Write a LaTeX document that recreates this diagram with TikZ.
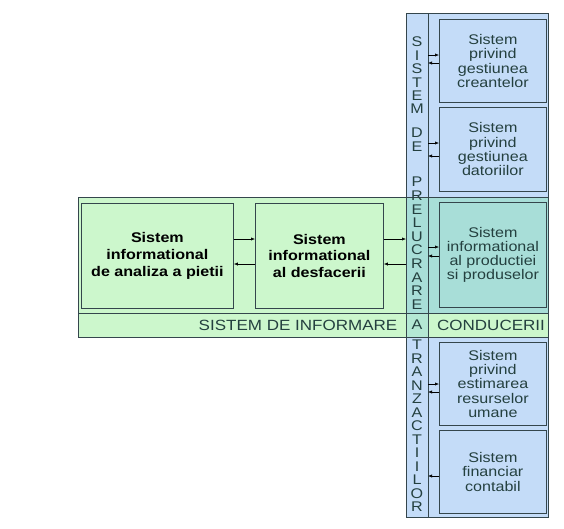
\documentclass[tikz,border=0pt]{standalone}
\usepackage{fontspec}
\setmainfont[FakeStretch=1.15]{Liberation Sans}
\usetikzlibrary{arrows.meta}
\definecolor{cblue}{HTML}{C4DCF8}
\definecolor{cgreen}{HTML}{CCF7CC}
\definecolor{cteal}{HTML}{A8DED8}
\definecolor{crowA}{HTML}{B4E8D4}
\definecolor{cline}{HTML}{34464C}
\definecolor{ctext}{HTML}{24403F}
\tikzset{
  frame/.style={draw=cline, line width=0.8pt, inner sep=0pt},
  area/.style={inner sep=0pt, outer sep=0pt, anchor=north west},
  bbox/.style={frame, fill=cblue, minimum width=107pt, align=center, text=ctext,
    font=\fontsize{14}{14.3}\selectfont, anchor=north west},
  gbox/.style={frame, fill=cgreen, align=center, anchor=north west, minimum height=105pt,
    font=\bfseries\fontsize{14}{16.6}\selectfont},
  letter/.style={text=ctext, font=\fontsize{14}{14}\selectfont, inner sep=0pt},
  rowtext/.style={text=ctext, font=\fontsize{14.8}{14.8}\selectfont, inner sep=0pt},
  arr/.style={-{Latex[length=4pt,width=3.2pt]}, line width=0.6pt, draw=black},
}
\begin{document}
\begin{tikzpicture}[x=1pt,y=-1pt]
\useasboundingbox (0,0) rectangle (564,528);
% column background
\node[area, fill=cblue, minimum width=142pt, minimum height=504pt] (col) at (406,13) {};
% green band
\node[area, fill=cgreen, minimum width=470pt, minimum height=140pt] (band) at (78,197) {};
% overlap of column and band
\node[area, fill=cteal, minimum width=142pt, minimum height=116pt] (ovl) at (406,197) {};
% bottom row of band
\node[area, fill=cgreen, minimum width=470pt, minimum height=24pt] (row) at (78,313) {};
\node[area, fill=crowA, minimum width=22pt, minimum height=24pt] (rowA) at (406,313) {};
\draw[cline, line width=0.8pt] (band.north west) rectangle (band.south east);
\draw[cline, line width=0.8pt] (row.north west) -- (row.north east);
% strip
\node[area, draw=cline, line width=0.8pt, minimum width=22pt, minimum height=504pt] (strip) at (406,13) {};
\draw[cline, line width=0.8pt] (col.north west) rectangle (col.south east);

% green boxes
\node[gbox, minimum width=152pt] (A) at (81,203) {Sistem\\informational\\de analiza a pietii};
\node[gbox, minimum width=128pt] (B) at (255,203) {Sistem\\informational\\al desfacerii};

% right boxes
\node[bbox, minimum height=83pt] (b1) at (439,19) {Sistem\\privind\\gestiunea\\creantelor};
\node[bbox, minimum height=84pt] (b2) at (439,107) {Sistem\\privind\\gestiunea\\datoriilor};
\node[bbox, fill=cteal, minimum height=105pt] (c) at (439,202) {Sistem\\informational\\al productiei\\si produselor};
\node[bbox, minimum height=83pt] (d) at (439,342) {Sistem\\privind\\estimarea\\resurselor\\umane};
\node[bbox, minimum height=83pt] (e) at (439,430) {Sistem\\financiar\\contabil};

% vertical letters
\foreach \l/\y [count=\i] in {S/42,I/55.4,S/68.8,T/82.2,E/95.6,M/109,D/133,E/146.4,
  P/182,R/195.6,E/209.2,L/222.8,U/236.4,C/250,R/263.6,A/277.2,R/290.8,E/304.4,A/325,
  T/345,R/358.5,A/372,N/385.5,Z/399,A/412.5,C/426,T/439.5,I/453,I/466.5,L/480,O/493.5,R/507}
  \node[letter] (v\i) at (417,\y) {\l};

% row texts
\node[rowtext] (rt1) at (298,325) {SISTEM DE INFORMARE};
\node[rowtext] (rt2) at (491,325) {CONDUCERII};

% arrows
\draw[arr] (A.east |- 0,239) -- (B.west |- 0,239);
\draw[arr] (B.west |- 0,264) -- (A.east |- 0,264);
\draw[arr] (B.east |- 0,239) -- (strip.west |- 0,239);
\draw[arr] (strip.west |- 0,264) -- (B.east |- 0,264);
\draw[arr] (strip.east |- 0,55) -- (b1.west |- 0,55);
\draw[arr] (b1.west |- 0,63) -- (strip.east |- 0,63);
\draw[arr] (strip.east |- 0,143) -- (b2.west |- 0,143);
\draw[arr] (b2.west |- 0,156) -- (strip.east |- 0,156);
\draw[arr] (strip.east |- 0,247) -- (c.west |- 0,247);
\draw[arr] (c.west |- 0,256) -- (strip.east |- 0,256);
\draw[arr] (strip.east |- 0,384) -- (d.west |- 0,384);
\draw[arr] (d.west |- 0,392) -- (strip.east |- 0,392);
\draw[arr] (e.west |- 0,476) -- (strip.east |- 0,476);
\end{tikzpicture}
\end{document}
